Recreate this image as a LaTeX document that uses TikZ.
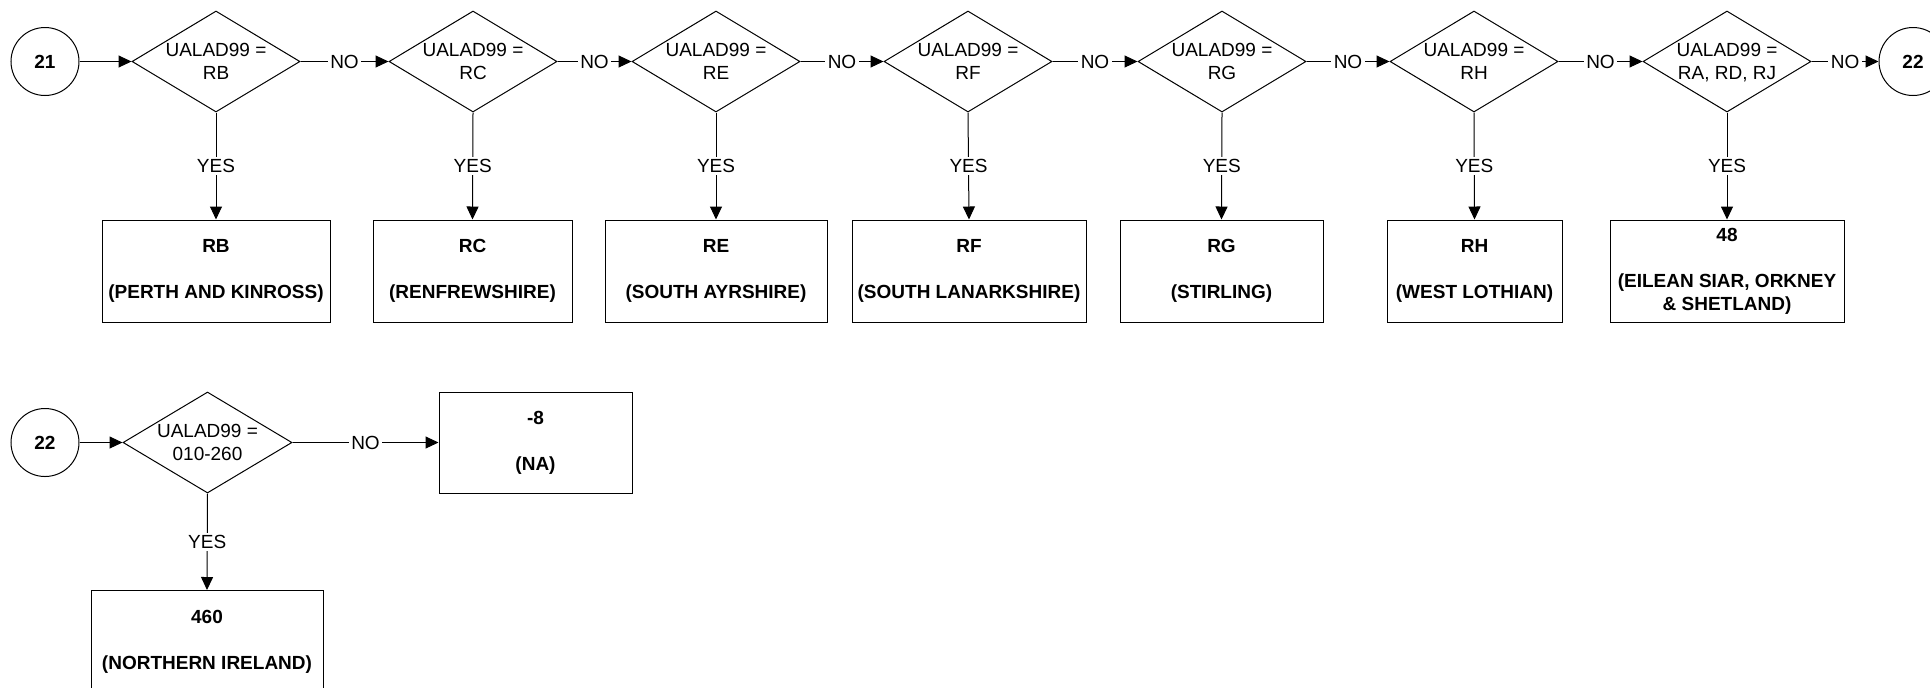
\documentclass[tikz,border=0pt]{standalone}
\usepackage{fontspec}
\setmainfont{Liberation Sans}
\usetikzlibrary{shapes.geometric,arrows.meta}
\newcommand\dtxt[2]{\smash{\raisebox{-3pt}{\makebox[0pt]{\begin{tabular}{@{}c@{}}#1\\#2\end{tabular}}}}}
\tikzset{
  basefont/.style={font=\fontsize{9.5}{11.5}\selectfont},
  decbox/.style={diamond, draw, line width=0.5pt, inner sep=0pt, minimum width=84pt, minimum height=50.5pt, basefont},
  resbox/.style={rectangle, draw, line width=0.5pt, inner sep=0pt, align=center, minimum height=51pt, font=\fontsize{9.5}{11.5}\selectfont\bfseries},
  conn/.style={circle, draw, line width=0.5pt, inner sep=0pt, minimum size=34pt, font=\fontsize{9.5}{11.5}\selectfont\bfseries},
  arr/.style={line width=0.5pt, -{Triangle[length=6.5pt,width=6pt]}},
  lbl/.style={fill=white, inner sep=1.2pt, basefont}
}
\begin{document}
\begin{tikzpicture}[x=0.5pt,y=-0.5pt]
\useasboundingbox (0,0) rectangle (1930,687);
% row 1
\node[conn] (c21) at (45,61.5) {21};
\node[decbox] (d1) at (216,61.5) {\dtxt{UALAD99 =}{RB}};
\node[decbox] (d2) at (473,61.5) {\dtxt{UALAD99 =}{RC}};
\node[decbox] (d3) at (716,61.5) {\dtxt{UALAD99 =}{RE}};
\node[decbox] (d4) at (968,61.5) {\dtxt{UALAD99 =}{RF}};
\node[decbox] (d5) at (1222,61.5) {\dtxt{UALAD99 =}{RG}};
\node[decbox] (d6) at (1474,61.5) {\dtxt{UALAD99 =}{RH}};
\node[decbox] (d7) at (1727,61.5) {\dtxt{UALAD99 =}{RA, RD, RJ}};
\node[conn] (c22a) at (1913,61.5) {22};
\node[resbox, minimum width=114pt] (b1) at (216,271) {RB\\[11.5pt](PERTH AND KINROSS)};
\node[resbox, minimum width=99.5pt] (b2) at (472.5,271) {RC\\[11.5pt](RENFREWSHIRE)};
\node[resbox, minimum width=111pt] (b3) at (716,271) {RE\\[11.5pt](SOUTH AYRSHIRE)};
\node[resbox, minimum width=117pt] (b4) at (969,271) {RF\\[11.5pt](SOUTH LANARKSHIRE)};
\node[resbox, minimum width=101.5pt] (b5) at (1221.5,271) {RG\\[11.5pt](STIRLING)};
\node[resbox, minimum width=87.5pt] (b6) at (1474.5,271) {RH\\[11.5pt](WEST LOTHIAN)};
\node[resbox, minimum width=117pt] (b7) at (1727,271) {48\\[11.5pt](EILEAN SIAR, ORKNEY\\\& SHETLAND)};
\draw[arr] (c21.east) -- (d1.west);
\draw[arr] (d1.east) -- node[lbl]{NO} (d2.west);
\draw[arr] (d2.east) -- node[lbl]{NO} (d3.west);
\draw[arr] (d3.east) -- node[lbl]{NO} (d4.west);
\draw[arr] (d4.east) -- node[lbl]{NO} (d5.west);
\draw[arr] (d5.east) -- node[lbl]{NO} (d6.west);
\draw[arr] (d6.east) -- node[lbl]{NO} (d7.west);
\draw[arr] (d7.east) -- node[lbl]{NO} (c22a.west);
\draw[arr] (d1.south) -- node[lbl]{YES} (b1.north);
\draw[arr] (d2.south) -- node[lbl]{YES} (b2.north);
\draw[arr] (d3.south) -- node[lbl]{YES} (b3.north);
\draw[arr] (d4.south) -- node[lbl]{YES} (b4.north);
\draw[arr] (d5.south) -- node[lbl]{YES} (b5.north);
\draw[arr] (d6.south) -- node[lbl]{YES} (b6.north);
\draw[arr] (d7.south) -- node[lbl]{YES} (b7.north);
% row 2
\node[conn] (c22b) at (45,442.5) {22};
\node[decbox, minimum width=84.5pt] (d8) at (207.5,442.5) {\dtxt{UALAD99 =}{010-260}};
\node[resbox, minimum width=96.5pt, minimum height=50.5pt] (bna) at (535.5,442.5) {\raisebox{-1pt}{-8}\\[11.5pt]\raisebox{-1pt}{(NA)}};
\node[resbox, minimum width=116pt] (b460) at (207,641.5) {460\\[11.5pt](NORTHERN IRELAND)};
\draw[arr] (c22b.east) -- (d8.west);
\draw[arr] (d8.east) -- node[lbl]{NO} (bna.west);
\draw[arr] (d8.south) -- node[lbl]{YES} (b460.north);
\end{tikzpicture}
\end{document}
